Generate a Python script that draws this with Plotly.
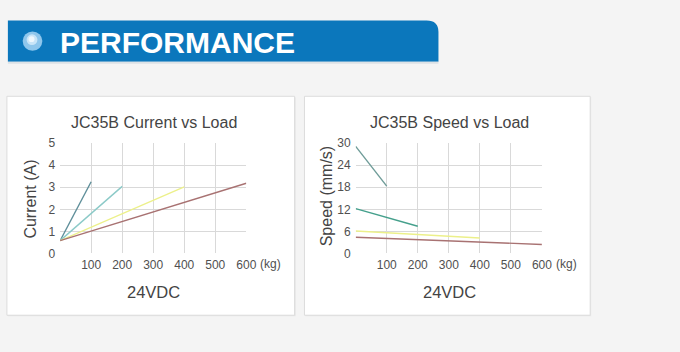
import plotly.graph_objects as go

W, H = 680, 352

# ---- data ----
loads = [[0, 100], [0, 200], [0, 400], [0, 600]]
current_a = [[0.58, 3.25], [0.58, 3.04], [0.58, 3.02], [0.58, 3.18]]
speed_mms = [[29.1, 18.3], [12.2, 7.4], [6.1, 4.2], [4.4, 2.45]]
series_names = ["100 kg", "200 kg", "400 kg", "600 kg"]
current_colors = ["#5f8f9a", "#8ccac8", "#ecf08a", "#a87272"]
speed_colors = ["#6f9c98", "#45a08c", "#ecf08a", "#a87272"]

x_ticks = [0, 100, 200, 300, 400, 500, 600]
x_ticktext = ["", "100", "200", "300", "400", "500", "600"]
current_ticks = [0, 1, 2, 3, 4, 5]
speed_ticks = [0, 6, 12, 18, 24, 30]

titles = ["JC35B Current vs Load", "JC35B Speed vs Load"]
ytitles = ["Current (A)", "Speed (mm/s)"]
xtitle = "24VDC"
header = "PERFORMANCE"

FONT = "Liberation Sans, Arial, sans-serif"

def px(x):
    return x / W

def py(y):
    return 1 - y / H

fig = go.Figure()

for i in range(4):
    fig.add_trace(go.Scatter(x=loads[i], y=current_a[i], mode="lines", name=series_names[i],
                             line=dict(color=current_colors[i], width=1.4),
                             xaxis="x", yaxis="y", showlegend=False))
for i in range(4):
    fig.add_trace(go.Scatter(x=loads[i], y=speed_mms[i], mode="lines", name=series_names[i],
                             line=dict(color=speed_colors[i], width=1.4),
                             xaxis="x2", yaxis="y2", showlegend=False))

grid = "#d9d9d9"
tickfont = dict(family=FONT, size=12, color="#505050")
ydom = [py(256.7), py(141.7)]

def xax(dom, anchor):
    return dict(domain=dom, anchor=anchor, range=[0, 600], tickvals=x_ticks, ticktext=x_ticktext,
                showgrid=True, gridcolor=grid, gridwidth=1, zeroline=False, showline=False,
                ticks="", tickfont=tickfont, ticklabelstandoff=3, fixedrange=True)

def yax(dom, anchor, ticks, rng):
    return dict(domain=dom, anchor=anchor, range=rng, tickvals=ticks,
                showgrid=True, gridcolor=grid, gridwidth=1, zeroline=False, showline=False,
                ticks="", tickfont=tickfont, ticklabelstandoff=4, fixedrange=True)

shapes = []
# panels
for x0, x1 in [(7, 299), (309, 599)]:
    shapes.append(dict(type="rect", xref="paper", yref="paper", x0=px(x0 + 1), x1=px(x1 + 1),
                       y0=py(322), y1=py(94), line=dict(width=0), fillcolor="#e6e6e6", layer="below"))
    shapes.append(dict(type="rect", xref="paper", yref="paper", x0=px(x0), x1=px(x1),
                       y0=py(321), y1=py(93), line=dict(color="#dcdcdc", width=1),
                       fillcolor="#ffffff", layer="below"))
# header band with rounded top-right corner
x0, x1, y0, y1, r = 8, 445, 14, 57, 12
path = (f"M {px(x0)},{py(y1)} L {px(x1)},{py(y1)} L {px(x1)},{py(y0 + r)} "
        f"Q {px(x1)},{py(y0)} {px(x1 - r)},{py(y0)} L {px(x0)},{py(y0)} Z")
shapes.append(dict(type="path", xref="paper", yref="paper", path=path,
                   fillcolor="#0b77bc", line=dict(width=0), layer="below"))
shapes.append(dict(type="rect", xref="paper", yref="paper", x0=px(x0), x1=px(x1),
                   y0=py(59), y1=py(57), fillcolor="#dde2e6", line=dict(width=0), layer="below"))
# bullet
cx, cy, rr = 33, 35.5, 10
shapes.append(dict(type="circle", xref="paper", yref="paper", x0=px(cx - rr), x1=px(cx + rr),
                   y0=py(cy + rr), y1=py(cy - rr), fillcolor="#8ec6ec", line=dict(width=0)))
shapes.append(dict(type="circle", xref="paper", yref="paper", x0=px(cx - 6), x1=px(cx + 5),
                   y0=py(cy + 4), y1=py(cy - 7), fillcolor="#c9e5f8", line=dict(width=0)))
shapes.append(dict(type="circle", xref="paper", yref="paper", x0=px(cx - 4), x1=px(cx + 2),
                   y0=py(cy + 1), y1=py(cy - 5), fillcolor="#eef7fd", line=dict(width=0)))

ann = []
ann.append(dict(text=f"<b>{header}</b>", x=px(59), y=py(36.5), xref="paper", yref="paper",
                xanchor="left", yanchor="middle", showarrow=False,
                font=dict(family=FONT, size=30, color="#ffffff")))
for cxp, t in [(156, titles[0]), (456, titles[1])]:
    ann.append(dict(text=t, x=px(cxp), y=py(120), xref="paper", yref="paper",
                    xanchor="center", yanchor="middle", showarrow=False,
                    font=dict(family=FONT, size=16, color="#444444")))
    ann.append(dict(text=xtitle, x=px(cxp), y=py(297), xref="paper", yref="paper",
                    xanchor="center", yanchor="middle", showarrow=False,
                    font=dict(family=FONT, size=16.5, color="#444444")))
ann.append(dict(text=ytitles[0], x=px(30), y=py(200), xref="paper", yref="paper", textangle=-90,
                xanchor="center", yanchor="middle", showarrow=False,
                font=dict(family=FONT, size=16, color="#444444")))
ann.append(dict(text=ytitles[1], x=px(331), y=py(197), xref="paper", yref="paper", textangle=-90,
                xanchor="center", yanchor="middle", showarrow=False,
                font=dict(family=FONT, size=16, color="#444444")))
for xr, yr in [("x", "y"), ("x2", "y2")]:
    ann.append(dict(text="(kg)", x=600, y=0, xref=xr, yref=yr, xanchor="left", yanchor="middle",
                    xshift=12, yshift=-11, showarrow=False,
                    font=dict(family=FONT, size=12, color="#505050")))

fig.update_layout(
    width=W, height=H, margin=dict(l=0, r=0, t=0, b=0),
    paper_bgcolor="#f4f4f4", plot_bgcolor="rgba(0,0,0,0)",
    xaxis=xax([px(61), px(250)], "y"),
    yaxis=yax(ydom, "x", current_ticks, [0, 5]),
    xaxis2=xax([px(361), px(550)], "y2"),
    yaxis2=yax(ydom, "x2", speed_ticks, [0, 30]),
    shapes=shapes, annotations=ann, showlegend=False,
)

fig.write_html("out.html", config={"displayModeBar": False})
